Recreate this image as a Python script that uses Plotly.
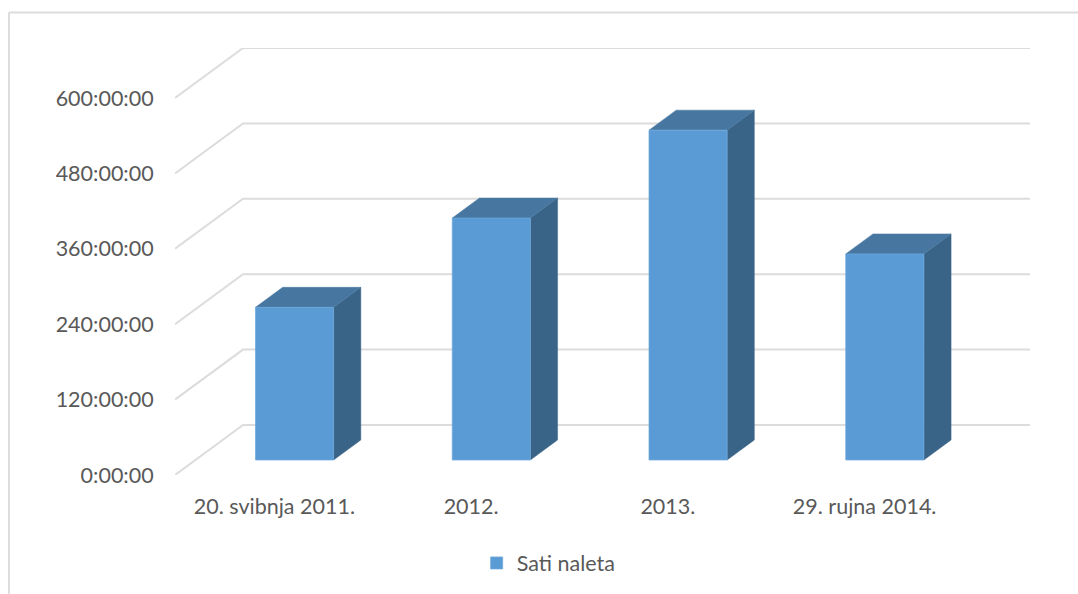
import plotly.graph_objects as go

categories = ["20. svibnja 2011.", "2012.", "2013.", "29. rujna 2014."]
hours = [243, 385, 525, 328]
series_name = "Sati naleta"
tick_hours = [0, 120, 240, 360, 480, 600]
tick_labels = ["0:00:00", "120:00:00", "240:00:00", "360:00:00", "480:00:00", "600:00:00"]

# Oblique projection of the pseudo-3D box, expressed in axis units
DEPTH_X = 68 / 196.75      # category units per unit of depth
DEPTH_Y = 50 / 377 * 600   # hours per unit of depth
X_MAX = 855 / 196.75
BAR_W = 0.397
BAR_C = 0.504
Z_FRONT, Z_BACK = 0.3, 0.7

GRID = "#dcdcdc"
FRONT = "#5b9bd5"
TOP = "#4776a1"
SIDE = "#3a6487"
TEXT = "#595959"
FONT = "Lato"
FS = 21.5


def px(x, z):
    return x + DEPTH_X * z


def py(v, z):
    return v + DEPTH_Y * z


fig = go.Figure()

# Wall + floor gridlines
for v in tick_hours:
    fig.add_trace(go.Scatter(
        x=[px(0, 0), px(0, 1), X_MAX], y=[py(v, 0), py(v, 1), py(v, 1)],
        mode="lines", line=dict(color=GRID, width=2),
        showlegend=False, hoverinfo="skip", zorder=0, cliponaxis=False))

# Bar sides and tops
for i, v in enumerate(hours):
    x0 = i + BAR_C - BAR_W / 2
    x1 = i + BAR_C + BAR_W / 2
    fig.add_trace(go.Scatter(
        x=[px(x1, Z_FRONT), px(x1, Z_BACK), px(x1, Z_BACK), px(x1, Z_FRONT), px(x1, Z_FRONT)],
        y=[py(0, Z_FRONT), py(0, Z_BACK), py(v, Z_BACK), py(v, Z_FRONT), py(0, Z_FRONT)],
        mode="lines", fill="toself", fillcolor=SIDE, line=dict(color=SIDE, width=0.5),
        showlegend=False, hoverinfo="skip", zorder=1))
    fig.add_trace(go.Scatter(
        x=[px(x0, Z_FRONT), px(x0, Z_BACK), px(x1, Z_BACK), px(x1, Z_FRONT), px(x0, Z_FRONT)],
        y=[py(v, Z_FRONT), py(v, Z_BACK), py(v, Z_BACK), py(v, Z_FRONT), py(v, Z_FRONT)],
        mode="lines", fill="toself", fillcolor=TOP, line=dict(color=TOP, width=0.5),
        showlegend=False, hoverinfo="skip", zorder=1))

# Bar fronts
fig.add_trace(go.Bar(
    x=[px(i + BAR_C, Z_FRONT) for i in range(len(hours))],
    y=hours,
    base=[py(0, Z_FRONT)] * len(hours),
    width=BAR_W,
    name=series_name,
    marker=dict(color=FRONT, line=dict(color="#6ea8dc", width=0.75)),
    zorder=2))

fig.update_layout(
    width=1078, height=594,
    margin=dict(l=175, r=48, t=47.5, b=119, autoexpand=False),
    paper_bgcolor="white", plot_bgcolor="white",
    font=dict(family=FONT, size=FS, color=TEXT),
    showlegend=True,
    legend=dict(x=0.361, y=-0.158, xanchor="left", yanchor="top",
                orientation="h", font=dict(family=FONT, size=FS, color=TEXT),
                itemwidth=30, indentation=-7, bgcolor="rgba(0,0,0,0)"),
    xaxis=dict(range=[0, X_MAX], tickmode="array",
               tickvals=[i + 0.505 for i in range(len(categories))], ticktext=categories,
               showgrid=False, zeroline=False, showline=False,
               ticks="outside", ticklen=1, tickcolor="rgba(0,0,0,0)",
               ticklabelstandoff=11, tickfont=dict(family=FONT, size=FS, color=TEXT)),
    yaxis=dict(range=[0, 600 + DEPTH_Y], tickmode="array", tickvals=tick_hours,
               ticktext=tick_labels, showgrid=False, zeroline=False, showline=False,
               ticks="outside", ticklen=1, tickcolor="rgba(0,0,0,0)",
               ticklabelstandoff=15, tickfont=dict(family=FONT, size=FS, color=TEXT)),
    shapes=[
        dict(type="line", xref="paper", yref="paper", layer="below",
             x0=(9 - 175) / 855, x1=(1078 - 175) / 855,
             y0=(475 - 12) / 427.5, y1=(475 - 12) / 427.5,
             line=dict(color=GRID, width=2)),
        dict(type="line", xref="paper", yref="paper", layer="below",
             x0=(9 - 175) / 855, x1=(9 - 175) / 855,
             y0=(475 - 12) / 427.5, y1=(475 - 594) / 427.5,
             line=dict(color=GRID, width=2)),
    ],
)

fig.write_html("out.html", config={"displayModeBar": False},
               post_script="document.body.style.margin='0';")
